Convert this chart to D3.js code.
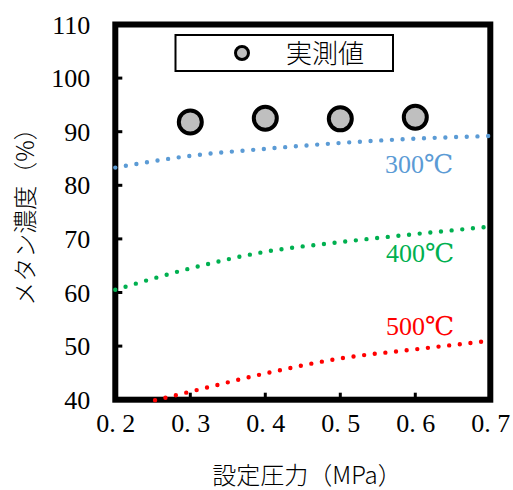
<!DOCTYPE html>
<html>
<head>
<meta charset="utf-8">
<script src="https://cdn.jsdelivr.net/npm/d3@7"></script>
<style>
html,body{margin:0;padding:0;background:#fff;}
</style>
</head>
<body>
<svg id="chart" width="513" height="490"></svg>
<script>
// ---- data ----
const pressures = [0.2, 0.3, 0.4, 0.5, 0.6, 0.7];
const series300 = [83.3, 85.5, 86.8, 87.9, 88.7, 89.2];
const series400 = [60.5, 64.5, 67.6, 69.4, 70.9, 72.3];
const pressures500 = [0.253, 0.3, 0.4, 0.5, 0.6, 0.7];
const series500 = [39.9, 41.5, 44.9, 47.7, 49.4, 51.0];
const measuredP = [0.3, 0.4, 0.5, 0.6];
const measuredV = [91.8, 92.5, 92.4, 92.7];
const xTicks = [0.2, 0.3, 0.4, 0.5, 0.6, 0.7];
const xTickLabels = ["0. 2", "0. 3", "0. 4", "0. 5", "0. 6", "0. 7"];
const yTicks = [40, 50, 60, 70, 80, 90, 100, 110];
const seriesNames = ["300℃", "400℃", "500℃"];
const legendLabel = "実測値";
const xTitle = "設定圧力（MPa）";
const yTitle = "メタン濃度（%）";

const SERIF = '"Liberation Serif","DejaVu Serif","Noto Sans CJK JP",serif';
const CJK = '"Noto Sans CJK JP","Liberation Serif",sans-serif';

const svg = d3.select("#chart");
const L = 115.3, R = 490.3, T = 24.5, B = 399.7;
const x = d3.scaleLinear().domain([0.2, 0.7]).range([L, R]);
const y = d3.scaleLinear().domain([40, 110]).range([B, T]);

svg.append("defs").append("clipPath").attr("id", "clip")
  .append("rect").attr("x", L - 3).attr("y", T).attr("width", R - L + 6).attr("height", B - T + 3);

// axes frame
svg.append("rect").attr("x", L).attr("y", T).attr("width", R - L).attr("height", B - T)
  .attr("fill", "none").attr("stroke", "#000").attr("stroke-width", 6);

// y axis
const yAxis = d3.axisLeft(y).tickValues(yTicks).tickSize(0).tickPadding(0);
const ya = svg.append("g").attr("transform", `translate(${L},0)`).call(yAxis);
ya.select(".domain").remove();
ya.selectAll("text").attr("x", -25).attr("fill", "#000").attr("dy", "0.33em")
  .style("font-family", SERIF).style("font-size", "26px");
yTicks.forEach(v => {
  if (v === 40 || v === 110) return;
  svg.append("line").attr("x1", L).attr("x2", L + 7).attr("y1", y(v)).attr("y2", y(v))
    .attr("stroke", "#000").attr("stroke-width", 3);
});

// x axis
const xAxis = d3.axisBottom(x).tickValues(xTicks).tickSize(0).tickPadding(0)
  .tickFormat((d, i) => xTickLabels[i]);
const xa = svg.append("g").attr("transform", `translate(0,${B})`).call(xAxis);
xa.select(".domain").remove();
xa.selectAll("text").attr("y", 32).attr("dy", 0).attr("fill", "#000")
  .style("font-family", SERIF).style("font-size", "26px").style("white-space", "pre");
xTicks.forEach(v => {
  if (v === 0.2 || v === 0.7) return;
  svg.append("line").attr("x1", x(v)).attr("x2", x(v)).attr("y1", B).attr("y2", B - 7)
    .attr("stroke", "#000").attr("stroke-width", 3);
});

// curves (drawn over the frame like the original)
const line = d3.line().x(d => x(d[0])).y(d => y(d[1])).curve(d3.curveMonotoneX);
const curves = [
  {name: seriesNames[0], pts: d3.zip(pressures, series300), color: "#5b9bd5", lx: 385, ly: 173},
  {name: seriesNames[1], pts: d3.zip(pressures, series400), color: "#00b050", lx: 386, ly: 262},
  {name: seriesNames[2], pts: d3.zip(pressures500, series500), color: "#ff0000", lx: 386, ly: 335}
];
const g = svg.append("g").attr("clip-path", "url(#clip)");
curves.forEach(c => {
  g.append("path").attr("d", line(c.pts)).attr("fill", "none")
    .attr("stroke", c.color).attr("stroke-width", 4.4)
    .attr("stroke-linecap", "round").attr("stroke-dasharray", "0 10.7");
  svg.append("text").attr("x", c.lx).attr("y", c.ly).attr("fill", c.color)
    .style("font-family", SERIF).style("font-size", "26px").text(c.name);
});

// measured points
svg.selectAll("circle.m").data(d3.zip(measuredP, measuredV)).enter().append("circle")
  .attr("class", "m").attr("cx", d => x(d[0])).attr("cy", d => y(d[1])).attr("r", 11.5)
  .attr("fill", "#bfbfbf").attr("stroke", "#000").attr("stroke-width", 4);

// legend
svg.append("rect").attr("x", 175.5).attr("y", 35).attr("width", 217.5).attr("height", 36)
  .attr("fill", "#fff").attr("stroke", "#000").attr("stroke-width", 2);
svg.append("circle").attr("cx", 242).attr("cy", 53).attr("r", 6.5)
  .attr("fill", "#bfbfbf").attr("stroke", "#000").attr("stroke-width", 3);
svg.append("text").attr("x", 286).attr("y", 63)
  .style("font-family", CJK).style("font-size", "26px").style("font-weight", "300").text(legendLabel);

// titles
svg.append("text").attr("x", 307).attr("y", 484).attr("text-anchor", "middle")
  .style("font-family", CJK).style("font-size", "24px").style("font-weight", "300").text(xTitle);
svg.append("text").attr("transform", "translate(34,211) rotate(-90)")
  .attr("text-anchor", "middle")
  .style("font-family", CJK).style("font-size", "24px").style("font-weight", "300").text(yTitle);
</script>
</body>
</html>
